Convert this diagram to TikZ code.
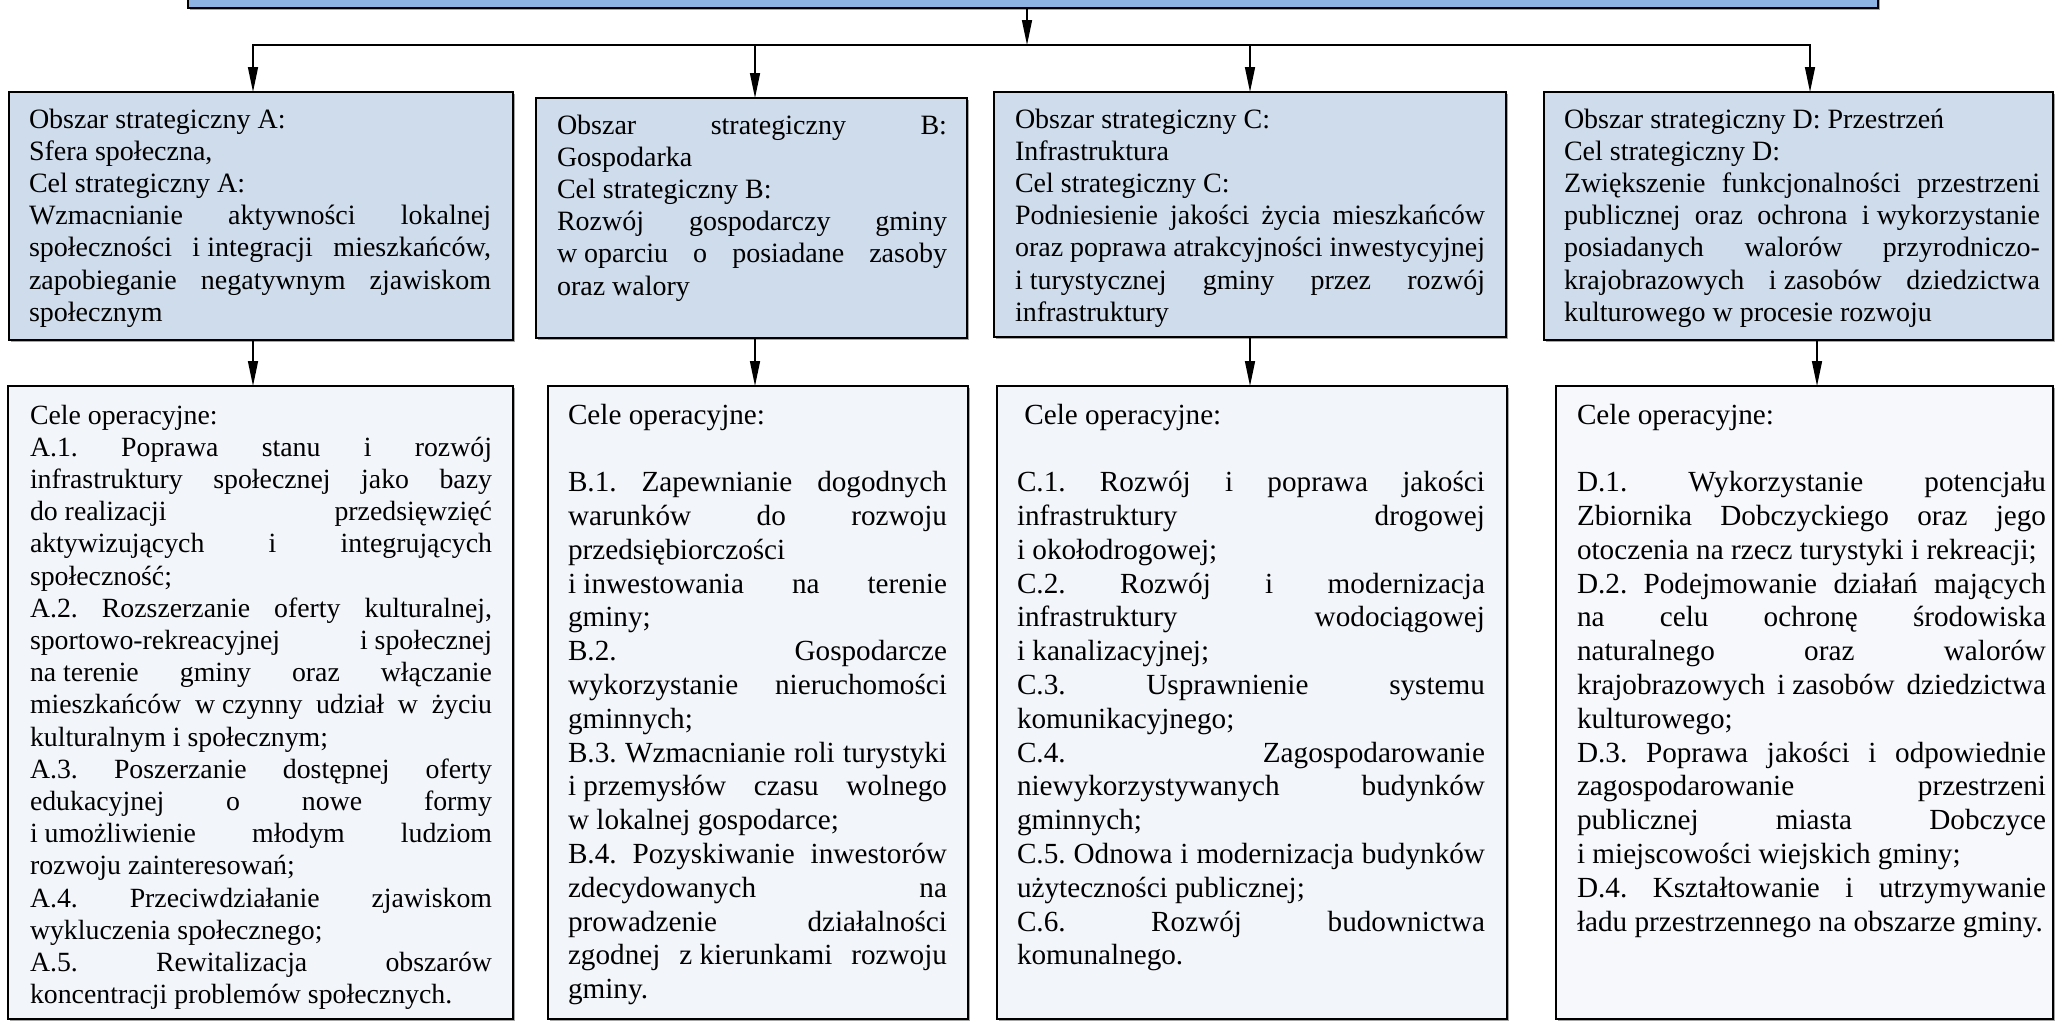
\documentclass[tikz,border=0pt]{standalone}
\usepackage{fontspec}
\setmainfont{Liberation Serif}
\usetikzlibrary{arrows.meta,shadows}
\definecolor{topblue}{HTML}{8DB3E2}
\definecolor{midblue}{HTML}{CFDCEC}
\definecolor{paleblue}{HTML}{F2F5FA}
\definecolor{paleD}{HTML}{F7F8FC}
\frenchspacing
\newlength\tw
\newcommand\J[1]{\leavevmode\hbox to\tw{\spaceskip=.25em plus 10em minus .05em\xspaceskip=\spaceskip #1}}
\newcommand\Lf[1]{\leavevmode\hbox to\tw{\spaceskip=.25em\xspaceskip=\spaceskip #1\hss}}
\newcommand\fs{\hspace{.25em}}
\newcommand\Tp{\rule{0pt}{14pt}}
\newcommand\fRowA{\fontsize{14}{16.1}\selectfont\lineskiplimit=-100pt}
\newcommand\fAtwo{\fontsize{13.9}{16.1}\selectfont\lineskiplimit=-100pt}
\newcommand\fRowB{\fontsize{14.6}{16.9}\selectfont\lineskiplimit=-100pt}
\begin{document}
\begin{tikzpicture}[x=0.5pt,y=-0.5pt,
  box/.style={draw=black, line width=1pt, anchor=north west, inner sep=0pt, outer sep=0pt,
    drop shadow={shadow xshift=1.1pt, shadow yshift=-1.1pt, fill=black!35, opacity=1}},
  txt/.style={anchor=north west, inner sep=0pt, outer sep=0pt, align=left},
  conn/.style={line width=0.75pt, draw=black},
  arr/.style={conn, -{Triangle[length=12.5pt,width=5pt]}}]
\useasboundingbox (0,0) rectangle (2055,1024);
\clip (0,0) rectangle (2055,1024);

% boxes
\node[box, fill=topblue, minimum width=845pt, minimum height=28pt] (T) at (188,-48) {};
\node[box, fill=midblue, minimum width=252pt, minimum height=124pt] (A) at (9,92) {};
\node[box, fill=midblue, minimum width=215.5pt, minimum height=120pt] (B) at (536,98) {};
\node[box, fill=midblue, minimum width=256pt, minimum height=122.5pt] (C) at (994,92) {};
\node[box, fill=midblue, minimum width=254.5pt, minimum height=124pt] (D) at (1544,92) {};
\node[box, fill=paleblue, minimum width=252.5pt, minimum height=316.5pt] (A2) at (8,386) {};
\node[box, fill=paleblue, minimum width=210pt, minimum height=316.5pt] (B2) at (548,386) {};
\node[box, fill=paleblue, minimum width=255pt, minimum height=316.5pt] (C2) at (997,386) {};
\node[box, fill=paleD, minimum width=248.5pt, minimum height=316.5pt] (D2) at (1556,386) {};

% connectors
\coordinate (bM) at (1027,45);
\coordinate (bA) at (253,45);
\coordinate (bB) at (755,45);
\coordinate (bC) at (1250,45);
\coordinate (bD) at (1810,45);
\coordinate (xD) at (1817,45);
\draw[arr] (T.south -| bM) -- (bM);
\draw[arr] (bM) -| (A.north -| bA);
\draw[arr] (bM) -| (D.north -| bD);
\draw[arr] (bB) -- (B.north -| bB);
\draw[arr] (bC) -- (C.north -| bC);
\draw[arr] (A.south -| bA) -- (A2.north -| bA);
\draw[arr] (B.south -| bB) -- (B2.north -| bB);
\draw[arr] (C.south -| bC) -- (C2.north -| bC);
\draw[arr] (D.south -| xD) -- (D2.north -| xD);

% row 1 texts
\node[txt, text width=231pt, font=\fRowA] (tA) at (29,100) {\setlength\tw{231pt}%
\Lf{\Tp Obszar strategiczny A:}\\
\Lf{Sfera społeczna,}\\
\Lf{Cel strategiczny A:}\\
\J{Wzmacnianie aktywności lokalnej}\\
\J{społeczności i\fs integracji mieszkańców,}\\
\J{zapobieganie negatywnym zjawiskom}\\
\Lf{społecznym}};

\node[txt, text width=195pt, font=\fRowA] (tB) at (557,106) {\setlength\tw{195pt}%
\J{\Tp Obszar strategiczny B:}\\
\Lf{Gospodarka}\\
\Lf{Cel strategiczny B:}\\
\J{Rozwój gospodarczy gminy}\\
\J{w\fs oparciu o posiadane zasoby}\\
\Lf{oraz walory}};

\node[txt, text width=235pt, font=\fRowA] (tC) at (1015,100) {\setlength\tw{235pt}%
\Lf{\Tp Obszar strategiczny C:}\\
\Lf{Infrastruktura}\\
\Lf{Cel strategiczny C:}\\
\J{Podniesienie jakości życia mieszkańców}\\
\J{oraz poprawa atrakcyjności inwestycyjnej}\\
\J{i\fs turystycznej gminy przez rozwój}\\
\Lf{infrastruktury}};

\node[txt, text width=238pt, font=\fRowA] (tD) at (1564,100) {\setlength\tw{238pt}%
\Lf{\Tp Obszar strategiczny D: Przestrzeń}\\
\Lf{Cel strategiczny D:}\\
\J{Zwiększenie funkcjonalności przestrzeni}\\
\J{publicznej oraz ochrona i\fs wykorzystanie}\\
\J{posiadanych walorów przyrodniczo-}\\
\J{krajobrazowych i\fs zasobów dziedzictwa}\\
\Lf{kulturowego w procesie rozwoju}};

% row 2 texts
\node[txt, text width=231pt, font=\fAtwo] (tA2) at (30,396) {\setlength\tw{231pt}%
\Lf{\Tp Cele operacyjne:}\\
\J{A.1. Poprawa stanu i rozwój}\\
\J{infrastruktury społecznej jako bazy}\\
\J{do\fs realizacji przedsięwzięć}\\
\J{aktywizujących i integrujących}\\
\Lf{społeczność;}\\
\J{A.2. Rozszerzanie oferty kulturalnej,}\\
\J{sportowo-rekreacyjnej i\fs społecznej}\\
\J{na\fs terenie gminy oraz włączanie}\\
\J{mieszkańców w\fs czynny udział w życiu}\\
\Lf{kulturalnym i społecznym;}\\
\J{A.3. Poszerzanie dostępnej oferty}\\
\J{edukacyjnej o nowe formy}\\
\J{i\fs umożliwienie młodym ludziom}\\
\Lf{rozwoju zainteresowań;}\\
\J{A.4. Przeciwdziałanie zjawiskom}\\
\Lf{wykluczenia społecznego;}\\
\J{A.5. Rewitalizacja obszarów}\\
\Lf{koncentracji problemów społecznych.}};

\node[txt, text width=189.5pt, font=\fRowB] (tB2) at (568,396) {\setlength\tw{189.5pt}%
\Lf{\Tp Cele operacyjne:}\\
\Lf{}\\
\J{B.1. Zapewnianie dogodnych}\\
\J{warunków do rozwoju}\\
\Lf{przedsiębiorczości}\\
\J{i\fs inwestowania na terenie}\\
\Lf{gminy;}\\
\J{B.2. Gospodarcze}\\
\J{wykorzystanie nieruchomości}\\
\Lf{gminnych;}\\
\J{B.3. Wzmacnianie roli turystyki}\\
\J{i\fs przemysłów czasu wolnego}\\
\Lf{w lokalnej gospodarce;}\\
\J{B.4. Pozyskiwanie inwestorów}\\
\J{zdecydowanych na}\\
\J{prowadzenie działalności}\\
\J{zgodnej z\fs kierunkami rozwoju}\\
\Lf{gminy.}};

\node[txt, text width=234pt, font=\fRowB] (tC2) at (1017,396) {\setlength\tw{234pt}%
\Lf{\Tp\fs Cele operacyjne:}\\
\Lf{}\\
\J{C.1. Rozwój i poprawa jakości}\\
\J{infrastruktury drogowej}\\
\Lf{i okołodrogowej;}\\
\J{C.2. Rozwój i modernizacja}\\
\J{infrastruktury wodociągowej}\\
\Lf{i kanalizacyjnej;}\\
\J{C.3. Usprawnienie systemu}\\
\Lf{komunikacyjnego;}\\
\J{C.4. Zagospodarowanie}\\
\J{niewykorzystywanych budynków}\\
\Lf{gminnych;}\\
\J{C.5. Odnowa i modernizacja budynków}\\
\Lf{użyteczności publicznej;}\\
\J{C.6. Rozwój budownictwa}\\
\Lf{komunalnego.}};

\node[txt, text width=234.5pt, font=\fRowB] (tD2) at (1577,396) {\setlength\tw{234.5pt}%
\Lf{\Tp Cele operacyjne:}\\
\Lf{}\\
\J{D.1. Wykorzystanie potencjału}\\
\J{Zbiornika Dobczyckiego oraz jego}\\
\Lf{otoczenia na rzecz turystyki i rekreacji;}\\
\J{D.2. Podejmowanie działań mających}\\
\J{na celu ochronę środowiska}\\
\J{naturalnego oraz walorów}\\
\J{krajobrazowych i\fs zasobów dziedzictwa}\\
\Lf{kulturowego;}\\
\J{D.3. Poprawa jakości i odpowiednie}\\
\J{zagospodarowanie przestrzeni}\\
\J{publicznej miasta Dobczyce}\\
\Lf{i miejscowości wiejskich gminy;}\\
\J{D.4. Kształtowanie i utrzymywanie}\\
\Lf{ładu przestrzennego na obszarze gminy.}};
\end{tikzpicture}
\end{document}
